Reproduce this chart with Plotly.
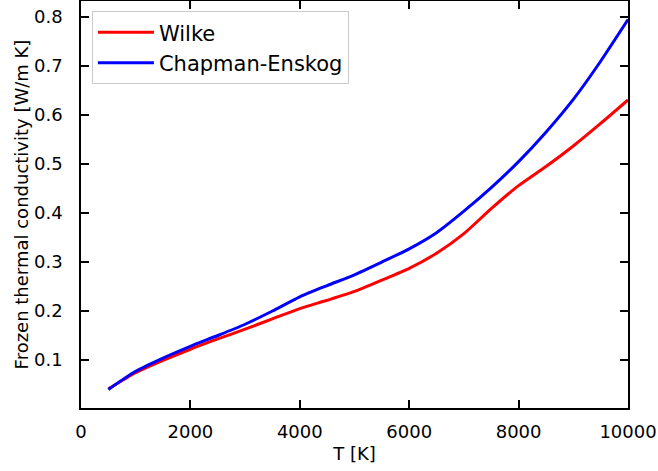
import plotly.graph_objects as go

T = [500, 1000, 1500, 2000, 2500, 3000, 3500, 4000, 4500, 5000, 5500, 6000,
     6500, 7000, 7500, 8000, 8500, 9000, 9500, 10000]
wilke = [0.041, 0.074, 0.099, 0.122, 0.143, 0.163, 0.184, 0.205, 0.222, 0.240,
         0.263, 0.287, 0.318, 0.358, 0.409, 0.456, 0.495, 0.537, 0.583, 0.631]
chapman = [0.040, 0.077, 0.104, 0.128, 0.150, 0.173, 0.200, 0.229, 0.252, 0.274,
           0.300, 0.327, 0.360, 0.404, 0.452, 0.505, 0.565, 0.632, 0.710, 0.795]
xticks = [0, 2000, 4000, 6000, 8000, 10000]
xticklabels = ["0", "2000", "4000", "6000", "8000", "10000"]
yticks = [0.1, 0.2, 0.3, 0.4, 0.5, 0.6, 0.7, 0.8]
yticklabels = ["0.1", "0.2", "0.3", "0.4", "0.5", "0.6", "0.7", "0.8"]

font = "DejaVu Sans"
fig = go.Figure()
fig.add_trace(go.Scatter(x=T, y=wilke, mode="lines", name="Wilke",
                         line=dict(color="#ff0000", width=3, shape="spline", smoothing=0.6)))
fig.add_trace(go.Scatter(x=T, y=chapman, mode="lines", name="Chapman-Enskog",
                         line=dict(color="#0000ff", width=3, shape="spline", smoothing=0.6)))

axis_common = dict(
    showgrid=False, zeroline=False, showline=True, linecolor="black", linewidth=1.5,
    ticks="inside", ticklen=8, tickwidth=1.5, tickcolor="black", mirror="allticks",
    tickfont=dict(family=font, size=18, color="black"),
)
fig.update_xaxes(range=[0, 10000], tickvals=xticks, ticktext=xticklabels,
                 ticklabelstandoff=7,
                 title=dict(text="T [K]", font=dict(family=font, size=18, color="black"), standoff=6),
                 **axis_common)
fig.update_yaxes(range=[0.002, 0.833], tickvals=yticks, ticktext=yticklabels,
                 ticklabelstandoff=13,
                 title=dict(text="Frozen thermal conductivity [W/m K]",
                            font=dict(family=font, size=18, color="black"), standoff=1),
                 **axis_common)
fig.update_layout(
    width=658, height=471,
    margin=dict(l=81, r=30, t=1, b=63, autoexpand=False),
    paper_bgcolor="white", plot_bgcolor="white",
    font=dict(family=font, size=18, color="black"),
    legend=dict(x=0.02, y=0.975, xanchor="left", yanchor="top",
                bgcolor="rgba(255,255,255,0.8)", bordercolor="#cccccc", borderwidth=1,
                font=dict(family=font, size=21, color="black"),
                itemwidth=56, tracegroupgap=0),
)
fig.write_html("out.html")
